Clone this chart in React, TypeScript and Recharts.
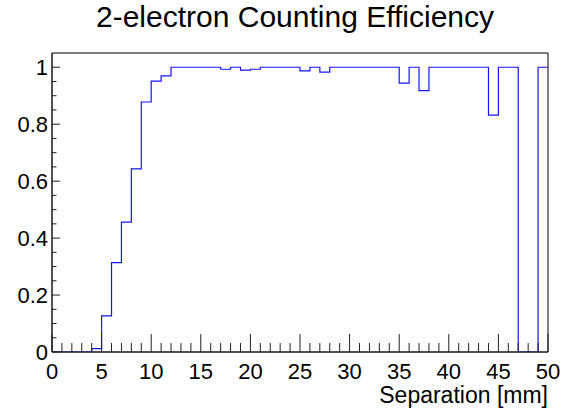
import { LineChart, Line, XAxis, YAxis, ReferenceArea } from "recharts";

// bin left edges [mm], 1 mm bins from 0 to 50
const binEdges = [
  0, 1, 2, 3, 4, 5, 6, 7, 8, 9,
  10, 11, 12, 13, 14, 15, 16, 17, 18, 19,
  20, 21, 22, 23, 24, 25, 26, 27, 28, 29,
  30, 31, 32, 33, 34, 35, 36, 37, 38, 39,
  40, 41, 42, 43, 44, 45, 46, 47, 48, 49,
];
const xMax = 50;

// efficiency per bin
const efficiency = [
  0, 0, 0, 0, 0.012, 0.127, 0.314, 0.456, 0.643, 0.878,
  0.951, 0.97, 1, 1, 1, 1, 1, 0.993, 1, 0.99,
  0.993, 1, 1, 1, 1, 0.987, 1, 0.983, 1, 1,
  1, 1, 1, 1, 1, 0.944, 1, 0.918, 1, 1,
  1, 1, 1, 1, 0.832, 1, 1, 0, 0, 1,
];

const xTicks = [
  0, 1, 2, 3, 4, 5, 6, 7, 8, 9, 10, 11, 12, 13, 14, 15, 16, 17, 18, 19, 20,
  21, 22, 23, 24, 25, 26, 27, 28, 29, 30, 31, 32, 33, 34, 35, 36, 37, 38, 39,
  40, 41, 42, 43, 44, 45, 46, 47, 48, 49, 50,
];
const yTicks = [
  0, 0.05, 0.1, 0.15, 0.2, 0.25, 0.3, 0.35, 0.4, 0.45, 0.5,
  0.55, 0.6, 0.65, 0.7, 0.75, 0.8, 0.85, 0.9, 0.95, 1,
];
const yMax = 1.05;

const FONT = "'Liberation Sans', Arial, Helvetica, sans-serif";

// step data: one point per bin edge, last bin repeated at the right edge
const data = [
  ...binEdges.map((x, i) => ({ x, eff: efficiency[i] })),
  { x: xMax, eff: efficiency[efficiency.length - 1] },
];

const PLOT_BOTTOM = 352;
const PLOT_LEFT = 52;

function XTick(props: any) {
  const { x, payload } = props;
  const y = PLOT_BOTTOM;
  const v = payload.value as number;
  const major = v % 5 === 0;
  return (
    <g>
      <line x1={x} y1={y} x2={x} y2={y - (major ? 18 : 9)} stroke="#222" strokeWidth={1} />
      {major && (
        <text x={x} y={y + 27} textAnchor="middle" fontSize={22} fontFamily={FONT} fill="#000">
          {v}
        </text>
      )}
    </g>
  );
}

function YTick(props: any) {
  const { y, payload } = props;
  const x = PLOT_LEFT;
  const v = payload.value as number;
  const major = Math.round(v * 100) % 20 === 0;
  return (
    <g>
      <line x1={x} y1={y} x2={x + (major ? 8 : 4.5)} y2={y} stroke="#222" strokeWidth={1} />
      {major && (
        <text x={x - 4} y={y + 8} textAnchor="end" fontSize={22} fontFamily={FONT} fill="#000">
          {String(Math.round(v * 10) / 10)}
        </text>
      )}
    </g>
  );
}

export default function App() {
  return (
    <div style={{ position: "absolute", left: 0, top: 0, width: 578, height: 412, background: "#fff" }}>
      <div
        style={{
          position: "absolute", left: 0, width: 590, top: -2, textAlign: "center",
          fontFamily: FONT, fontSize: 30, lineHeight: "38px", color: "#000",
        }}
      >
        2-electron Counting Efficiency
      </div>
      <LineChart width={578} height={412} data={data} margin={{ top: 53, right: 30, bottom: 30, left: 12 }}>
        <XAxis
          dataKey="x" type="number" domain={[0, xMax]} ticks={xTicks} interval={0}
          height={30} tickSize={0} tickMargin={0} tick={(p: any) => <XTick {...p} />} tickLine={false}
          axisLine={{ stroke: "#222" }} allowDataOverflow
        />
        <YAxis
          type="number" domain={[0, yMax]} ticks={yTicks} interval={0}
          width={40} tickSize={0} tickMargin={0} tick={(p: any) => <YTick {...p} />} tickLine={false}
          axisLine={{ stroke: "#222" }} allowDataOverflow
        />
        <Line
          type="stepAfter" dataKey="eff" stroke="#1515ff" strokeWidth={1.2}
          dot={false} activeDot={false} isAnimationActive={false}
        />
        <ReferenceArea x1={0} x2={xMax} y1={0} y2={yMax} fill="none" stroke="#000" strokeWidth={1} ifOverflow="visible" />
      </LineChart>
      <div
        style={{
          position: "absolute", right: 30, top: 381, fontFamily: FONT,
          fontSize: 23, lineHeight: "28px", color: "#000", whiteSpace: "nowrap",
        }}
      >
        Separation [mm]
      </div>
    </div>
  );
}
